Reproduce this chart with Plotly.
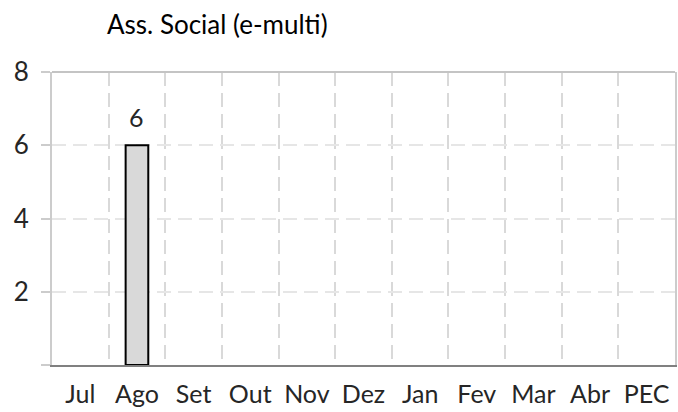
import plotly.graph_objects as go

# ---- data ----
categories = ["Jul", "Ago", "Set", "Out", "Nov", "Dez", "Jan", "Fev", "Mar", "Abr", "PEC"]
values = [None, 6, None, None, None, None, None, None, None, None, None]
y_tickvals = [0, 2, 4, 6, 8]
y_ticktext = ["", "2", "4", "6", "8"]
title_text = "Ass. Social (e-multi)"

FONT = "Lato, Carlito, Calibri, sans-serif"
TXT = "#262626"

fig = go.Figure()
fig.add_trace(go.Bar(
    x=categories, y=values, width=0.4,
    marker=dict(color="#d9d9d9", line=dict(color="#000000", width=2)),
    hoverinfo="x+y",
))

annotations = []
for c, v in zip(categories, values):
    if v is not None:
        annotations.append(dict(
            x=c, y=v, xref="x", yref="y", text=str(v), showarrow=False,
            yanchor="bottom", yshift=11, font=dict(family=FONT, size=25, color=TXT)))

fig.update_layout(
    width=678, height=412,
    margin=dict(l=52, r=3, t=72, b=47),
    paper_bgcolor="white", plot_bgcolor="white",
    showlegend=False,
    bargap=0.6,
    font=dict(family=FONT, size=25, color=TXT),
    title=dict(text=title_text, xref="container", yref="container",
               x=107 / 678, xanchor="left", y=1 - 25 / 412, yanchor="middle",
               font=dict(family=FONT, size=26, color="#000000")),
    annotations=annotations,
    shapes=[dict(type="line", xref="paper", yref="paper", x0=0, x1=1, y0=1, y1=1,
                 line=dict(color="#c4c4c4", width=2), layer="above")],
)

fig.update_xaxes(
    type="category", categoryorder="array", categoryarray=categories,
    showgrid=True, tickson="boundaries", gridcolor="#d9d9d9", gridwidth=2, griddash="14px,7px",
    showline=True, linecolor="#808080", linewidth=2,
    ticks="", ticklabelstandoff=6, automargin=False,
    tickfont=dict(family=FONT, size=25, color=TXT),
    fixedrange=True,
)
fig.update_yaxes(
    range=[0, 8], tickvals=y_tickvals, ticktext=y_ticktext,
    showgrid=True, gridcolor="#e6e6e6", gridwidth=2, griddash="14px,7px",
    zeroline=False, automargin=False,
    showline=True, mirror=True, linecolor="#cccccc", linewidth=2,
    ticks="outside", ticklen=9, tickwidth=2, tickcolor="#cccccc",
    ticklabelstandoff=7,
    tickfont=dict(family=FONT, size=26, color=TXT),
    fixedrange=True,
)

fig.write_html("out.html", config={"displayModeBar": False},
               post_script="document.body.style.margin='0';document.body.style.overflow='hidden';")
